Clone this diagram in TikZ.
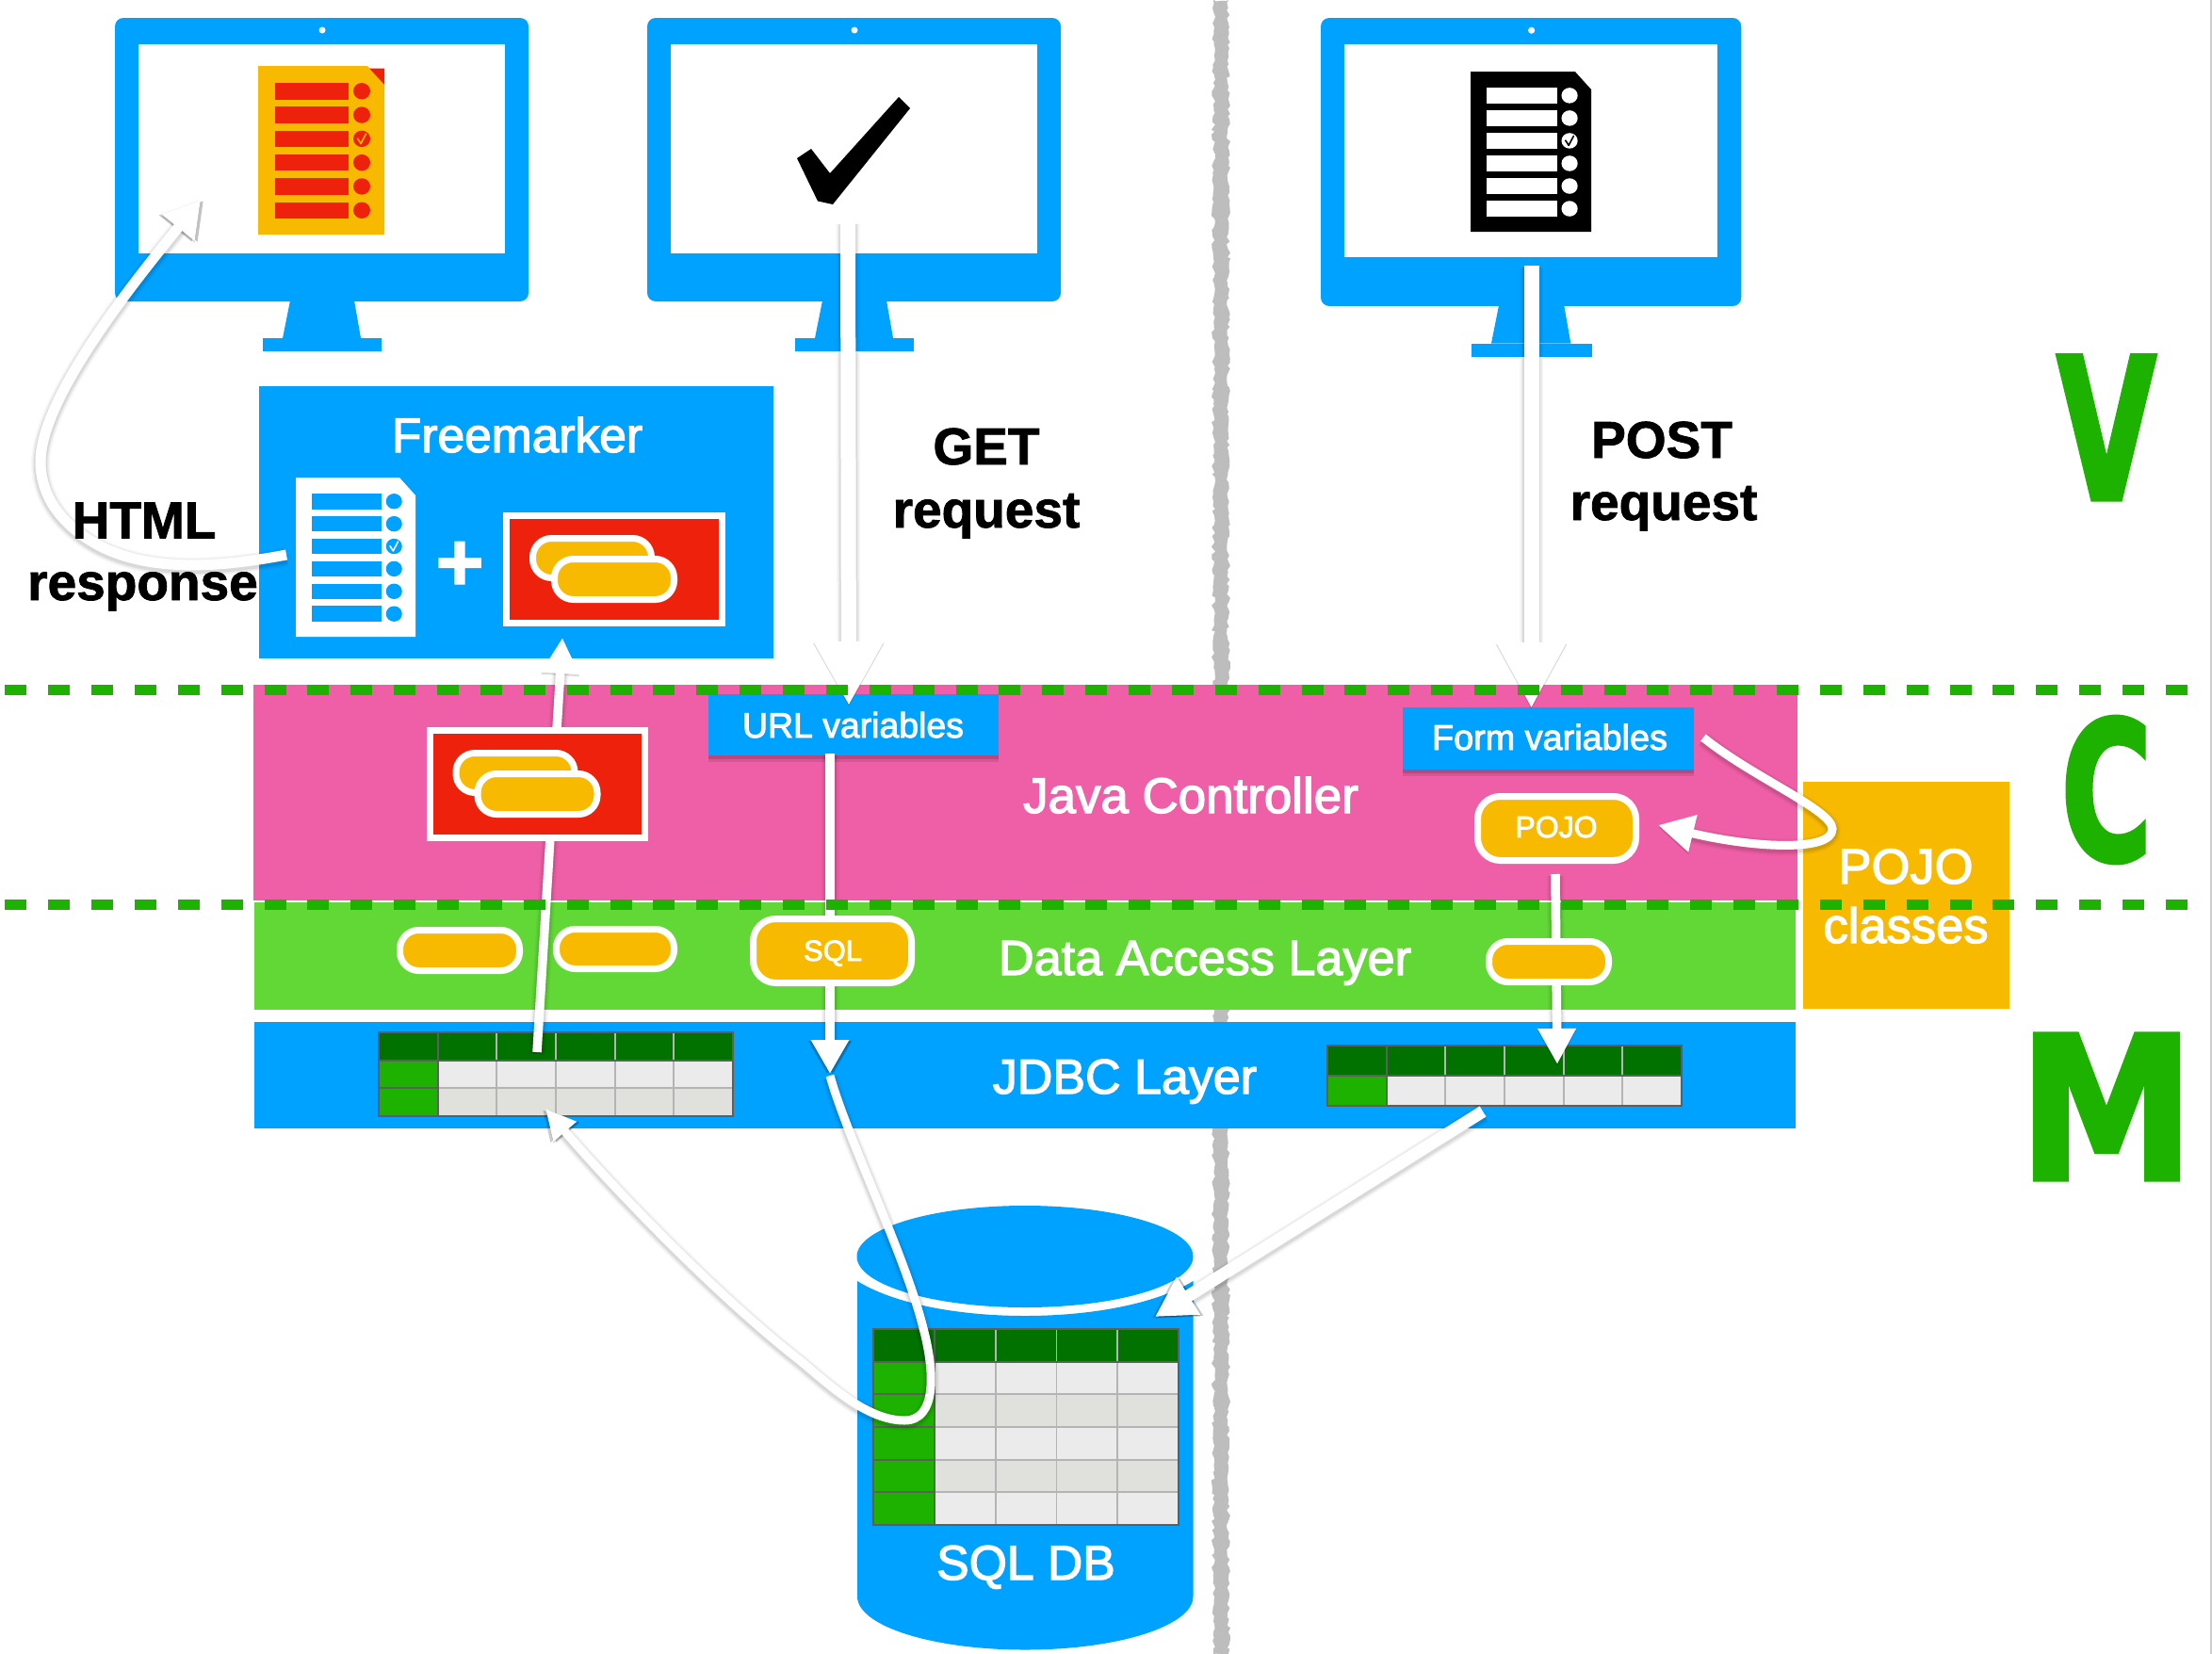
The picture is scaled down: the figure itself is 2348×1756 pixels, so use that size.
\documentclass[tikz,border=0pt]{standalone}
\usepackage{fontspec}
\setmainfont{Liberation Sans}
\newfontfamily\wf[FakeBold=2.5]{Liberation Sans}
\newfontfamily\blk[FakeBold=1.5]{Liberation Sans Bold}
\newfontfamily\slab[FakeBold=2.5]{DejaVu Sans Bold}
\usetikzlibrary{arrows.meta,shadows,decorations.pathmorphing}
\definecolor{ablue}{HTML}{00A2FF}
\definecolor{ared}{HTML}{EE220C}
\definecolor{ayellow}{HTML}{F8BA00}
\definecolor{apink}{HTML}{EF5FA7}
\definecolor{alime}{HTML}{61D836}
\definecolor{tgreen}{HTML}{1DB100}
\definecolor{tdark}{HTML}{017100}
\definecolor{cellA}{HTML}{EBEBEB}
\definecolor{cellB}{HTML}{E0E0DC}
\definecolor{tedge}{HTML}{5E5E5E}
\definecolor{tline}{HTML}{B4B4B4}
\definecolor{strip}{HTML}{BDBDBD}
\tikzset{
  flow/.style={draw=white,line width=#1,
    preaction={draw=black,opacity=.03,line width=#1+9,transform canvas={shift={(0pt,-2pt)}}},
    preaction={draw=black,opacity=.05,line width=#1+6,transform canvas={shift={(0pt,-2pt)}}},
    preaction={draw=black,opacity=.07,line width=#1+3,transform canvas={shift={(0pt,-2pt)}}}},
  headshade/.style={
    preaction={draw=black,opacity=.20,transform canvas={shift={(-3pt,-1pt)}}},
    preaction={draw=black,opacity=.24,transform canvas={shift={(3pt,-1pt)}}}},
  pillbox/.style={draw=white,line width=7pt,fill=ayellow,rounded corners=20pt},
  layerrule/.style={draw=tgreen,line width=11pt,dash pattern=on 23pt off 22.87pt},
  boxshadow/.style={
    drop shadow={shadow xshift=0pt,shadow yshift=-7pt,opacity=.10,fill=black},
    drop shadow={shadow xshift=0pt,shadow yshift=-4pt,opacity=.14,fill=black}},
  lab/.style={anchor=base,inner sep=0pt,outer sep=0pt},
  whitelab/.style={lab,text=white},
  blacklab/.style={lab,text=black,align=center},
  mvc/.style={lab,text=tgreen}
}
\newcommand\rn[6]{%
  \pgfmathsetmacro\rnX{(#3+#5)/2}\pgfmathsetmacro\rnY{(#4+#6)/2}%
  \pgfmathsetmacro\rnW{#5-#3}\pgfmathsetmacro\rnH{#6-#4}%
  \node[inner sep=0pt,outer sep=0pt,minimum width=\rnW pt,minimum height=\rnH pt,#2] (#1) at (\rnX,\rnY) {};}
\newcommand\pill[6][20pt]{%
  \pgfmathsetmacro\pA{#3+3.5}\pgfmathsetmacro\pB{#4+3.5}\pgfmathsetmacro\pC{#5-3.5}\pgfmathsetmacro\pD{#6-3.5}%
  \rn{#2}{pillbox,rounded corners=#1}{\pA}{\pB}{\pC}{\pD}}
\newcommand\monitor[4]{%
  \begin{scope}[shift={(#2,#3)},scale=#4]
    \fill[ablue,rounded corners=9pt] (0,0) rectangle (439,301);
    \fill[white] (25,28) rectangle (414,250);
    \fill[ablue] (186,300) -- (254,300) -- (261,340) -- (178,340) -- cycle;
    \fill[ablue] (157,340) rectangle (283,354);
    \fill[white] (220,13) ellipse (3.5 and 3.5);
    \coordinate (#1) at (220,125);
  \end{scope}}
\newcommand\formicon[8]{%
  \pgfmathsetmacro\fx{#4/134}\pgfmathsetmacro\fy{#5/179}%
  \begin{scope}[shift={(#2,#3)},xscale=\fx,yscale=\fy]
    \fill[#6] (0,0) -- (116,0) -- (134,20) -- (134,179) -- (0,179) -- cycle;
    \coordinate (#1) at (67,90);
    \foreach \i in {0,...,5} {
      \pgfmathsetmacro\ty{18+\i*25.3}
      \fill[#7] (18,\ty) rectangle (96,\ty+17.5);
      \fill[#7] (110,\ty+8.75) ellipse (9 and 8.7);
    }
    \draw[#8,line width=1.6pt,line cap=round,line join=round] (105.5,77) -- (109,82.5) -- (114.5,72);
  \end{scope}}
\newcommand\redbox[3]{%
  \pgfmathsetmacro\rbA{#2+3.5}\pgfmathsetmacro\rbB{#3+3.5}\pgfmathsetmacro\rbC{#2+232}\pgfmathsetmacro\rbD{#3+117.5}%
  \rn{#1}{draw=white,line width=7pt,fill=ared}{\rbA}{\rbB}{\rbC}{\rbD}%
  \pgfmathsetmacro\rbE{#2+28}\pgfmathsetmacro\rbF{#3+24}\pgfmathsetmacro\rbG{#2+161}\pgfmathsetmacro\rbH{#3+73}%
  \pill{#1a}{\rbE}{\rbF}{\rbG}{\rbH}%
  \pgfmathsetmacro\rbE{#2+51}\pgfmathsetmacro\rbF{#3+46}\pgfmathsetmacro\rbG{#2+185}\pgfmathsetmacro\rbH{#3+96}%
  \pill{#1b}{\rbE}{\rbF}{\rbG}{\rbH}}
\newcommand\dbtable[7]{%
  \pgfmathsetmacro\tcw{(#4-#2)/#6}\pgfmathsetmacro\tch{(#5-#3)/#7}%
  \pgfmathtruncatemacro\tlr{#7-1}\pgfmathtruncatemacro\tlc{#6-1}%
  \begin{scope}[shift={(#2,#3)},x=\tcw pt,y=-\tch pt]
    \foreach \r in {1,...,\tlr} {
      \pgfmathtruncatemacro\todd{mod(\r,2)}
      \ifnum\todd=1 \def\tcol{cellA}\else\def\tcol{cellB}\fi
      \fill[fill=\tcol] (1,\r) rectangle (#6,\r+1);
    }
    \fill[tdark] (0,0) rectangle (#6,1);
    \fill[tgreen] (0,1) rectangle (1,#7);
    \foreach \i in {2,...,\tlc} { \draw[tline,line width=1.8pt] (\i,0) -- (\i,#7); }
    \foreach \j in {1,...,\tlr} { \draw[tline,line width=1.8pt] (1,\j) -- (#6,\j); }
    \foreach \j in {1,...,\tlr} { \draw[tedge,line width=1.8pt] (0,\j) -- (1,\j); }
    \draw[tedge,line width=1.8pt] (0,1) -- (#6,1) (1,0) -- (1,#7);
    \draw[tedge,line width=2.5pt] (0,0) rectangle (#6,#7);
  \end{scope}
  \rn{#1}{}{#2}{#3}{#4}{#5}}
\begin{document}
\begin{tikzpicture}[x=1pt,y=-1pt]
\useasboundingbox (0,0) rectangle (2348,1756);
\fill[white] (0,0) rectangle (2348,1756);
\fill[black!20] (2346,0) rectangle (2348,1756);
% rough divider
\pgfmathsetseed{7}
\fill[strip,decorate,decoration={random steps,segment length=4pt,amplitude=2pt}]
  (1288,0) -- (1288,1756) -- (1304,1756) -- (1304,0) -- cycle;

% monitors
\monitor{screenA}{122}{19}{1}
\monitor{screenB}{687}{19}{1}
\monitor{screenC}{1402}{19}{1.0165}
\formicon{orangeDoc}{274}{70}{134}{179}{ayellow}{ared}{ayellow}
\fill[ared] (392,72.5) -- (408,72.5) -- (408,90) -- cycle;
\fill[black] (954,103) -- (966,115) -- (884,217) -- (868,213.5) -- (846,168) -- (861,158) -- (881,184) -- cycle;
\formicon{blackDoc}{1561}{76}{128}{170}{black}{white}{black}

% Freemarker
\rn{freemarker}{fill=ablue}{275}{410}{821}{699}
\node[whitelab] (fmText) at (549,480) {\wf\fontsize{51.5}{51.5}\selectfont Freemarker};
\formicon{whiteDoc}{314}{507}{127}{169}{white}{ablue}{white}
\node[whitelab] (plus) at (488,627) {\blk\fontsize{88}{88}\selectfont +};
\redbox{modelA}{534}{544}

% layers
\rn{pojoLayer}{fill=ayellow}{1914}{830}{2133}{1071}
\rn{controller}{fill=apink}{269}{727}{1908}{956}
\rn{dal}{fill=alime}{270}{958}{1906}{1072}
\rn{jdbc}{fill=ablue}{270}{1085}{1906}{1198}
\node[whitelab] (javaText) at (1264,863) {\wf\fontsize{52.9}{52.9}\selectfont Java Controller};
\node[whitelab] (dalText) at (1279,1035) {\wf\fontsize{52.2}{52.2}\selectfont Data Access Layer};
\node[whitelab] (jdbcText) at (1194,1161) {\wf\fontsize{52}{52}\selectfont JDBC Layer};
\node[whitelab] (pojoA) at (2023,938) {\wf\fontsize{52.5}{52.5}\selectfont POJO};
\node[whitelab] (pojoB) at (2023,1001) {\wf\fontsize{52.5}{52.5}\selectfont classes};

% tables in JDBC layer
\dbtable{tableL}{402}{1096}{778}{1185}{6}{3}
\dbtable{tableR}{1409}{1110}{1785}{1174}{6}{2}

% database
\fill[ablue] (910,1360) .. controls (950,1385) and (1020,1397) .. (1088,1397)
  .. controls (1156,1397) and (1226,1385) .. (1266.5,1360) -- (1266.5,1695)
  .. controls (1266.5,1726) and (1187,1751.5) .. (1088,1751.5)
  .. controls (989,1751.5) and (910,1726) .. (910,1695) -- cycle;
\fill[ablue] (1088,1334) ellipse (178.5 and 54);
\dbtable{tableDB}{927}{1411}{1251}{1619}{5}{6}
\node[whitelab] (dbText) at (1089,1677) {\wf\fontsize{51.7}{51.7}\selectfont SQL DB};

% labels
\node[blacklab] (getA) at (1047,493) {\blk\fontsize{55}{55}\selectfont GET};
\node[blacklab] (getB) at (1047,560) {\blk\fontsize{55}{55}\selectfont request};
\node[blacklab] (postA) at (1764,486) {\blk\fontsize{55}{55}\selectfont POST};
\node[blacklab] (postB) at (1766,552) {\blk\fontsize{55}{55}\selectfont request};
\node[mvc] (letterV) at (2236,530) {\scalebox{.62}[.95]{\slab\fontsize{220}{220}\selectfont V}};
\node[mvc] (letterC) at (2236,913) {\scalebox{.60}[.93]{\slab\fontsize{220}{220}\selectfont C}};
\node[mvc] (letterM) at (2236,1252) {\scalebox{.85}[.96]{\slab\fontsize{220}{220}\selectfont M}};

% variable boxes
\rn{urlBox}{fill=ablue,boxshadow}{751.5}{737}{1060}{802}
\node[whitelab] (urlText) at (905.5,783) {\wf\fontsize{37.4}{37.4}\selectfont URL variables};
\rn{formBox}{fill=ablue,boxshadow}{1489}{751}{1798}{817}
\node[whitelab] (formText) at (1645,796) {\wf\fontsize{37.8}{37.8}\selectfont Form variables};

% connector ends
\coordinate (getFrom) at (900,236);
\coordinate (getTo) at (901,749);
\coordinate (postFrom) at (1625.5,282);
\coordinate (postTo) at (1625.5,752);
\coordinate (htmlFrom) at (304,589);
\coordinate (htmlTo) at (213,212);
\coordinate (upFrom) at (570,1117);
\coordinate (upTo) at (597,677);
\coordinate (sqlFrom) at (881,800);
\coordinate (sqlTo) at (881,1140);
\coordinate (sqlOut) at (881,1142);
\coordinate (sqlBack) at (579,1177);
\coordinate (formFrom) at (1808,783);
\coordinate (formTo) at (1760,876);
\coordinate (pojoFrom) at (1651,928);
\coordinate (pojoTo) at (1653,1130);
\coordinate (dbFrom) at (1574,1180);
\coordinate (dbTo) at (1226,1398);

% connectors
\draw[flow=16,headshade,-{Triangle[width=70pt,length=68pt]}] (getFrom) -- (getTo);
\draw[flow=16,headshade,-{Triangle[width=70pt,length=70pt]}] (postFrom) -- (postTo);
\draw[flow=11,headshade,-{Triangle[width=42pt,length=38pt]}] (htmlFrom)
  .. controls (240,601) and (150,612) .. (90,570)
  .. controls (58,548) and (43,520) .. (43,490)
  .. controls (43,420) and (150,290) .. (htmlTo);
\draw[flow=9.5,headshade,-{Triangle[width=38pt,length=38pt]}] (upFrom) -- (upTo);
\draw[flow=10,headshade,-{Triangle[width=38pt,length=36pt]}] (sqlFrom) -- (sqlTo);
\draw[flow=9,headshade,-{Triangle[width=30pt,length=32pt]}] (sqlOut)
  .. controls (900,1210) and (960,1330) .. (980,1410)
  .. controls (992,1455) and (995,1508) .. (960,1508)
  .. controls (920,1508) and (880,1470) .. (850,1445)
  .. controls (760,1375) and (650,1260) .. (sqlBack);
\draw[flow=9,headshade,-{Triangle[width=38pt,length=38pt]}] (formFrom)
  .. controls (1860,825) and (1945,860) .. (1945,880)
  .. controls (1945,905) and (1860,900) .. (formTo);
\draw[flow=9.5,headshade,-{Triangle[width=38pt,length=38pt]}] (pojoFrom) -- (pojoTo);
\draw[flow=13,headshade,-{Triangle[width=44pt,length=42pt]}] (dbFrom) -- (dbTo);

% HTML label sits over its connector
\node[blacklab] (htmlA) at (153,571.5) {\blk\fontsize{55}{55}\selectfont HTML};
\node[blacklab] (htmlB) at (151.5,637) {\blk\fontsize{55}{55}\selectfont response};

% model objects
\redbox{modelB}{452.5}{772}
\pill{beanA}{421}{984}{555}{1034}
\pill{beanB}{587}{983}{719}{1032}
\pill{beanC}{1577}{996}{1711}{1046}
\pill[24pt]{sqlPill}{796}{972}{971}{1047}
\node[whitelab] (sqlText) at (884,1020) {\wf\fontsize{31}{31}\selectfont SQL};
\pill[24pt]{pojoPill}{1565}{842}{1740}{917}
\node[whitelab] (pojoText) at (1652,889) {\wf\fontsize{32}{32}\selectfont POJO};

% layer boundaries
\coordinate (ruleAL) at (5.4,732);
\coordinate (ruleAR) at (2323,732);
\coordinate (ruleBL) at (5.4,960);
\coordinate (ruleBR) at (2323,960);
\draw[layerrule] (ruleAL) -- (ruleAR);
\draw[layerrule] (ruleBL) -- (ruleBR);
\end{tikzpicture}
\end{document}
